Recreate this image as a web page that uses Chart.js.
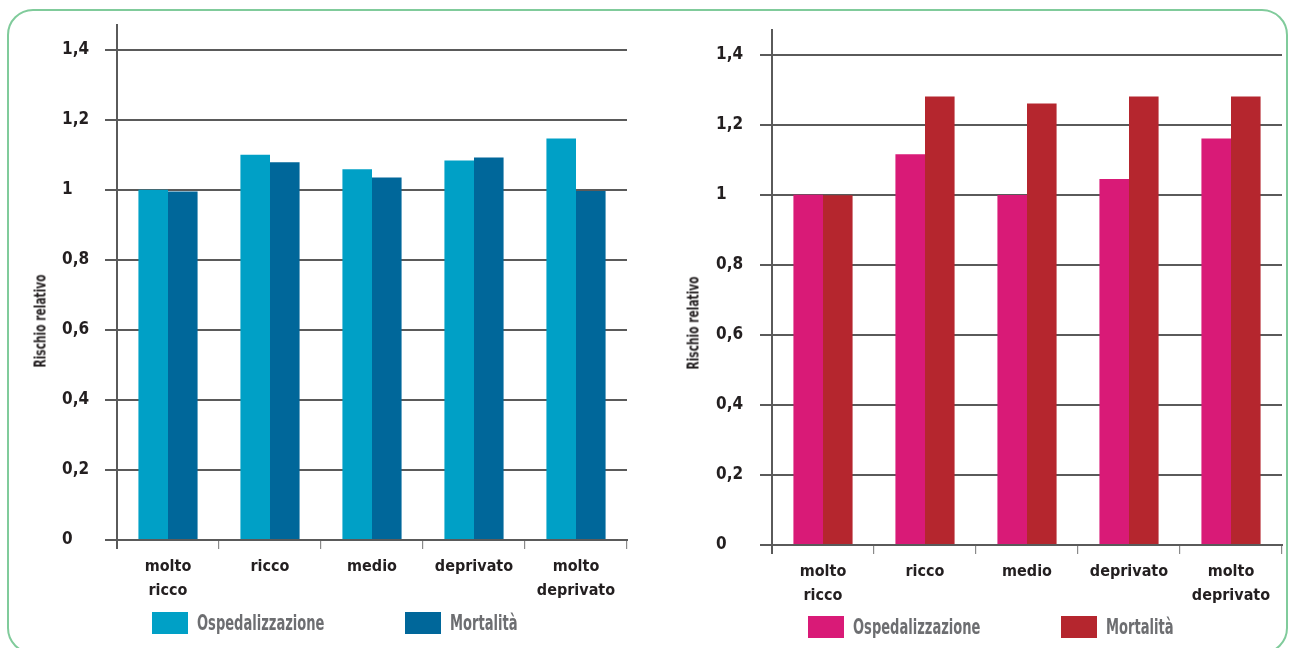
<!DOCTYPE html>
<html>
<head>
<meta charset="utf-8">
<script src="https://cdn.jsdelivr.net/npm/chart.js@4.4.1/dist/chart.umd.min.js"></script>
<style>
  body { margin: 0; background: #fff; width: 1289px; height: 648px; overflow: hidden; position: relative;
         font-family: "DejaVu Sans Condensed", "Liberation Sans Narrow", sans-serif; }
  .frame { position: absolute; left: 7px; top: 9px; width: 1281px; height: 645px; box-sizing: border-box;
           border: 2px solid #80cb9b; border-radius: 26px; }
  canvas { position: absolute; top: 0; }
  .ytitle { position: absolute; font-weight: bold; font-size: 16px; color: #231f20; white-space: nowrap;
            transform: translate(-50%, -50%) rotate(-90deg) scaleX(0.74); }
  .lg { position: absolute; display: flex; align-items: center; }
  .lg .box { width: 36px; height: 22px; flex: none; }
  .lg .txt { margin-left: 9px; font-weight: bold; font-size: 22px; color: #6d6e71; white-space: nowrap;
             transform: scaleX(0.66); transform-origin: left center; }
</style>
</head>
<body>
<div class="frame"></div>
<canvas id="left" width="645" height="648" style="left:0"></canvas>
<canvas id="right" width="644" height="648" style="left:645px"></canvas>
<div class="ytitle" style="left:40px;top:321px">Rischio relativo</div>
<div class="ytitle" style="left:693px;top:323px">Rischio relativo</div>
<div id="legends"></div>
<script>
const categories = [['molto', 'ricco'], 'ricco', 'medio', 'deprivato', ['molto', 'deprivato']];
const seriesNames = ['Ospedalizzazione', 'Mortalità'];

// pannello sinistro
const leftOsp  = [1.0, 1.10, 1.058, 1.083, 1.146];
const leftMort = [0.995, 1.078, 1.035, 1.092, 0.996];
const leftColors = ['#00a0c6', '#00679a'];

// pannello destro
const rightOsp  = [1.0, 1.115, 0.999, 1.045, 1.16];
const rightMort = [0.998, 1.28, 1.26, 1.28, 1.28];
const rightColors = ['#d91a77', '#b5262e'];

const yMax = 1.47;
const yStep = 0.2;

Chart.defaults.font.family = '"DejaVu Sans Condensed", "Liberation Sans Narrow", sans-serif';

function makeChart(id, osp, mort, colors, box) {
  return new Chart(document.getElementById(id), {
    type: 'bar',
    data: {
      labels: categories,
      datasets: [
        { label: seriesNames[0], data: osp, backgroundColor: colors[0] },
        { label: seriesNames[1], data: mort, backgroundColor: colors[1] }
      ]
    },
    options: {
      responsive: false,
      animation: false,
      layout: { padding: { left: box.left, right: box.right, top: box.top, bottom: box.bottom } },
      plugins: { legend: { display: false }, tooltip: { enabled: false } },
      datasets: { bar: { barPercentage: 1, categoryPercentage: 0.58 } },
      scales: {
        x: {
          grid: {
            offset: true, drawOnChartArea: false, drawTicks: true, tickLength: 9,
            color: c => c.index === 0 ? '#5a5a5a' : (c.index === categories.length ? 'rgba(0,0,0,0)' : '#8a8a8a'),
            lineWidth: c => c.index === 0 ? 2 : 1.2
          },
          border: { color: '#5a5a5a', width: 2 },
          ticks: { color: '#231f20', font: { size: 16, weight: 'bold', lineHeight: 1.5 }, padding: 6,
                   maxRotation: 0, autoSkip: false },
          afterFit: s => { s.height = 60; }
        },
        y: {
          min: 0, max: yMax, bounds: 'data',
          ticks: { stepSize: yStep, includeBounds: false, crossAlign: 'far', color: '#231f20',
                   font: { size: 17, weight: 'bold' },
                   callback: v => String(Math.round(v * 10) / 10).replace('.', ',') },
          grid: { color: '#5a5a5a', lineWidth: 2, tickLength: 12 },
          border: { color: '#5a5a5a', width: 2 },
          afterFit: s => { s.width = box.yWidth; }
        }
      }
    }
  });
}

makeChart('left', leftOsp, leftMort, leftColors, { left: 62, right: 18, top: 25, bottom: 48, yWidth: 55 });
makeChart('right', rightOsp, rightMort, rightColors, { left: 71, right: 7, top: 30, bottom: 43, yWidth: 56 });

// legende
function addLegend(colors, positions, top) {
  const root = document.getElementById('legends');
  seriesNames.forEach((name, i) => {
    const el = document.createElement('div');
    el.className = 'lg';
    el.style.left = positions[i] + 'px';
    el.style.top = top + 'px';
    el.innerHTML = '<div class="box" style="background:' + colors[i] + '"></div><span class="txt">' + name + '</span>';
    root.appendChild(el);
  });
}
addLegend(leftColors, [152, 405], 610);
addLegend(rightColors, [808, 1061], 614);
</script>
</body>
</html>
